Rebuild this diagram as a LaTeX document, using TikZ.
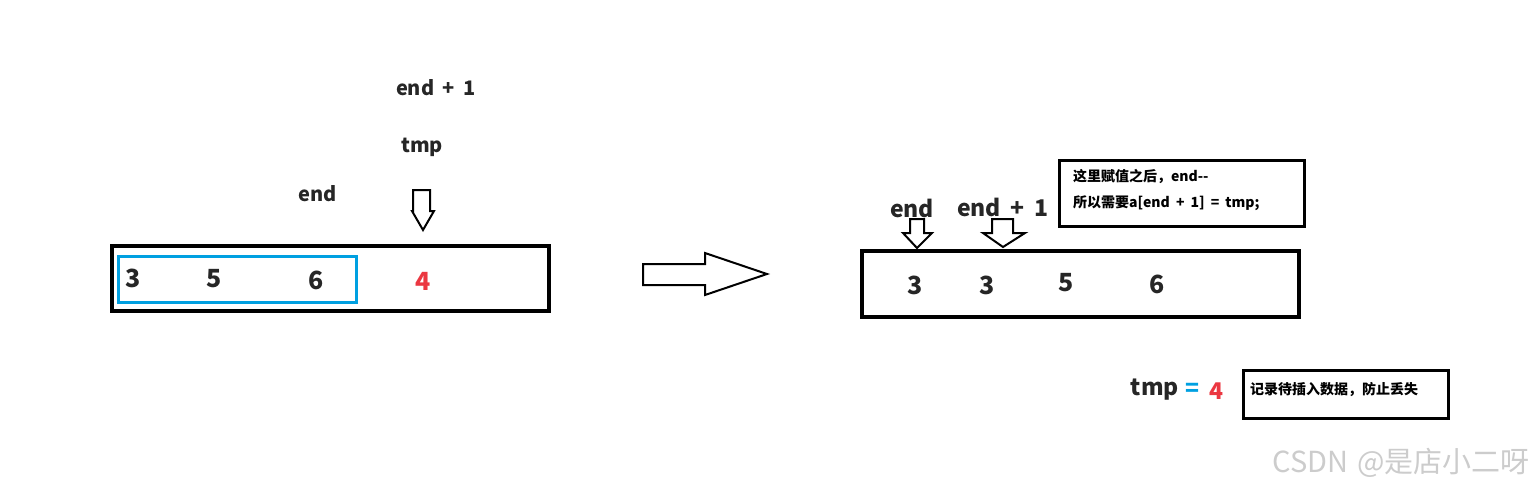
\documentclass[tikz,border=0pt]{standalone}
\usepackage{fontspec}
\setmainfont[WordSpace=1.9]{Noto Sans CJK SC}
\usetikzlibrary{positioning}
\definecolor{numred}{RGB}{235,55,65}
\definecolor{boxblue}{RGB}{0,160,225}
\begin{document}
\begin{tikzpicture}[x=0.5pt, y=-0.5pt,
    num/.style = {font=\fontsize{12.5}{14}\selectfont\bfseries, text=black!85},
    lbl/.style = {font=\fontsize{10}{12}\selectfont\bfseries, text=black!85},
    note/.style = {font=\fontsize{7}{13}\selectfont\bfseries, align=left, anchor=west},
    hollow/.style = {draw=black, line width=1pt, fill=white, line join=miter}]
\useasboundingbox (0,0) rectangle (1539,489);
% left array
\draw[line width=2pt] (112,246) rectangle (549,311);
\draw[boxblue, line width=1.5pt] (118,256) rectangle (356,302);
\node[num] (l3) at (133,278) {3};
\node[num] (l5) at (214,279) {5};
\node[num] (l6) at (316,280) {6};
\node[num, text=numred] (l4) at (423,281) {4};
\node[lbl] (lend1) at (436,88) {end + 1};
\node[lbl] (ltmp) at (422,147) {tmp};
\node[lbl] (lend) at (318,194) {end};
\draw[hollow] (413,190) -- (430,190) -- (430,211) -- (434,211) -- (423,230)
    -- (412,211) -- (413,211) -- cycle;
% big arrow
\draw[hollow] (643,264) -- (705,264) -- (705,253) -- (767,274) -- (705,295)
    -- (705,285) -- (643,285) -- cycle;
% right array
\draw[line width=2pt] (862,251) rectangle (1299,317);
\node[num] (r1) at (915,285) {3};
\node[num] (r2) at (987,285) {3};
\node[num] (r3) at (1066,283) {5};
\node[num] (r4) at (1157,284) {6};
\node[lbl, font=\fontsize{11.5}{13}\selectfont\bfseries] (rend) at (912,208) {end};
\node[lbl, font=\fontsize{11.5}{13}\selectfont\bfseries] (rend1) at (1003,207) {end + 1};
\draw[hollow] (910,219) -- (924,219) -- (924,233) -- (932,233) -- (917,248)
    -- (903,233) -- (910,233) -- cycle;
\draw[hollow] (992,219) -- (1013,219) -- (1013,233) -- (1025,233) -- (1003,247)
    -- (983,233) -- (992,233) -- cycle;
\draw[line width=1.5pt] (1059,160) rectangle (1304,226);
\node[note] (hint) at (1066,190) {这里赋值之后，end-{}-\\所以需要a[end + 1] = tmp;};
% tmp = 4
\node[lbl, font=\fontsize{11.5}{13}\selectfont\bfseries] (tmp) at (1155,390) {tmp};
\node[lbl, font=\fontsize{11.5}{13}\selectfont\bfseries, text=boxblue] (eq) at (1192,390) {=};
\node[num, font=\fontsize{11.5}{13}\selectfont\bfseries, text=numred] (val) at (1216,391) {4};
\draw[line width=1.5pt] (1243,370) rectangle (1448,418);
\node[note] (save) at (1243,390) {记录待插入数据，防止丢失};
% watermark
\node[font=\fontsize{14.5}{16}\selectfont, text=black!20, anchor=east] (mark) at (1537,463) {CSDN\hspace{0.3em}@是店小二呀};
\end{tikzpicture}
\end{document}
